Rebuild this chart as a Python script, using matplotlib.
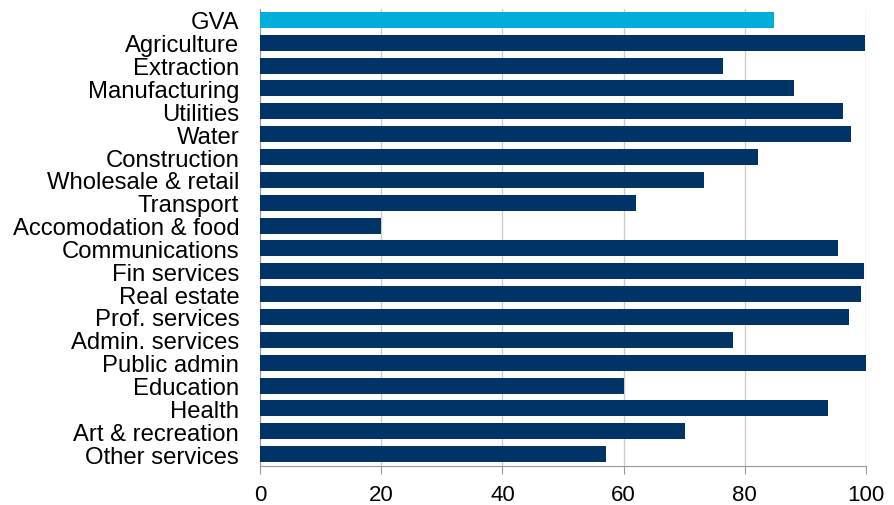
import matplotlib
matplotlib.use("Agg")
import matplotlib.pyplot as plt

categories = ["GVA", "Agriculture", "Extraction", "Manufacturing", "Utilities", "Water",
              "Construction", "Wholesale & retail", "Transport", "Accomodation & food",
              "Communications", "Fin services", "Real estate", "Prof. services",
              "Admin. services", "Public admin", "Education", "Health",
              "Art & recreation", "Other services"]
values = [84.8, 99.9, 76.4, 88.2, 96.2, 97.5, 82.2, 73.2, 62.1, 20.0,
          95.3, 99.7, 99.2, 97.2, 78.0, 100.0, 60.1, 93.8, 70.2, 57.1]
xticks = [0, 20, 40, 60, 80, 100]

plt.rcParams['font.family'] = ['Liberation Sans', 'DejaVu Sans']

fig = plt.figure(figsize=(8.94, 5.06), dpi=100)
ax = fig.add_axes([260/894, 1 - 466.5/506, (866-260)/894, (466.5-9.5)/506])

colors = ["#00AEDB"] + ["#003366"] * (len(categories) - 1)
y = list(range(len(categories)))
ax.barh(y, values, height=0.7, color=colors, zorder=3)
ax.set_ylim(len(categories) - 0.5, -0.5)
ax.set_xlim(0, 100)
ax.set_xticks(xticks)
ax.set_xticklabels([str(t) for t in xticks], fontsize=16)
ax.set_yticks(y)
ax.set_yticklabels(categories, fontsize=17.2)
ax.tick_params(axis='y', length=0, pad=15)
ax.tick_params(axis='x', length=6, color="#999999", pad=7)
ax.xaxis.grid(True, color="#cccccc", linewidth=1, zorder=0)
for s in ["top", "right"]:
    ax.spines[s].set_visible(False)
ax.spines["left"].set_color("#999999")
ax.spines["bottom"].set_color("#999999")

fig.savefig("out.png", dpi=100)
